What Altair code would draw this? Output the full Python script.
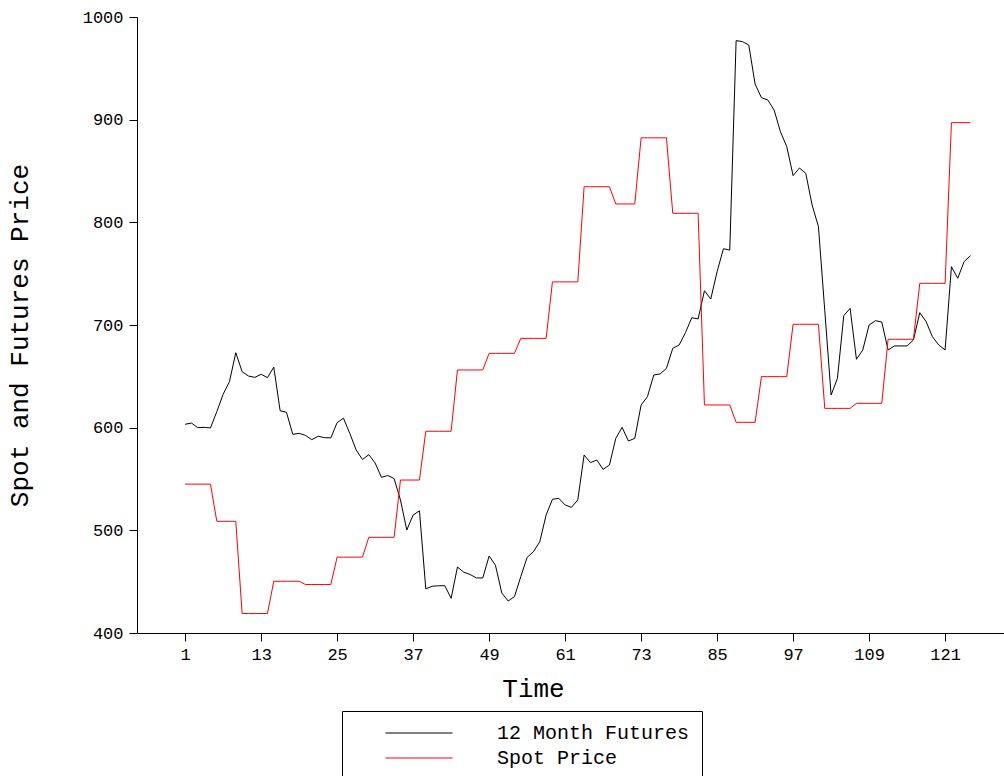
import altair as alt
import pandas as pd

time = list(range(1, 126))

futures = [
    603.3, 604.5, 600.0, 600.3, 599.7, 615.6, 632.5, 644.8, 673.0, 654.5,
    650.3, 649.0, 652.0, 648.7, 659.0, 616.5, 615.0, 593.5, 594.5, 592.5,
    588.3, 591.6, 590.3, 590.0, 604.9, 609.2, 594.5, 578.3, 569.0, 573.7,
    565.6, 551.6, 553.4, 550.4, 529.6, 500.3, 514.9, 519.0, 443.0, 445.5,
    446.0, 446.1, 433.8, 464.3, 459.2, 457.0, 453.6, 453.6, 475.0, 466.0,
    439.0, 431.2, 435.4, 454.9, 473.7, 479.2, 488.9, 514.9, 530.2, 531.2,
    524.7, 522.4, 529.6, 573.4, 565.9, 568.5, 559.4, 563.6, 589.6, 600.3,
    587.0, 589.6, 622.0, 630.2, 651.3, 652.3, 657.8, 677.3, 680.5, 692.5,
    707.1, 705.9, 733.4, 725.3, 752.0, 774.3, 773.0, 977.0, 976.0, 972.7,
    934.7, 921.4, 919.2, 909.4, 888.3, 873.7, 845.5, 852.9, 847.7, 816.9,
    795.8, 714.0, 631.8, 648.1, 709.1, 716.2, 666.6, 675.7, 700.0, 704.2,
    702.9, 675.7, 679.6, 679.6, 679.6, 685.4, 712.0, 703.3, 688.6, 680.5,
    675.7, 756.8, 745.5, 761.7, 767.5,
]

spot = (
    [545.0] * 5 + [508.8] * 4 + [419.0] * 5 + [450.4] * 5 + [447.2] * 5
    + [473.9] * 5 + [493.2] * 5 + [549.0] * 4 + [596.5] * 5 + [656.2] * 5
    + [672.4] * 5 + [687.0] * 5 + [742.0] * 5 + [834.7] * 5 + [817.9] * 4
    + [882.3] * 5 + [808.8] * 5 + [622.1] * 5 + [605.2] * 4 + [649.7] * 5
    + [700.7] * 5 + [618.8] * 5 + [623.7] * 5 + [686.1] * 5 + [740.6] * 5
    + [897.1] * 4
)

series_names = ["12 Month Futures", "Spot Price"]
series_colors = ["#000000", "#ff0000"]
x_ticks = [1, 13, 25, 37, 49, 61, 73, 85, 97, 109, 121]
y_ticks = [400, 500, 600, 700, 800, 900, 1000]

df = pd.concat([
    pd.DataFrame({"Time": time, "Price": futures, "Series": series_names[0]}),
    pd.DataFrame({"Time": time, "Price": spot, "Series": series_names[1]}),
])

FONT = "Liberation Mono"

chart = alt.Chart(df).mark_line(strokeWidth=1).encode(
    x=alt.X("Time:Q",
            scale=alt.Scale(domain=[-6.6, 130.3], nice=False, zero=False),
            axis=alt.Axis(values=x_ticks, title="Time", grid=False,
                          domainColor="black", tickColor="black", tickSize=8,
                          labelFont=FONT, labelFontSize=17, labelColor="black",
                          labelPadding=5, titleFont=FONT, titleFontSize=26,
                          titleFontWeight="normal", titleColor="black",
                          titleX=396, titleY=42, labelFlush=False)),
    y=alt.Y("Price:Q",
            scale=alt.Scale(domain=[400, 1000], nice=False, zero=False),
            axis=alt.Axis(values=y_ticks, title="Spot and Futures Price", grid=False,
                          format="d",
                          domainColor="black", tickColor="black", tickSize=8,
                          labelFont=FONT, labelFontSize=17, labelColor="black",
                          labelPadding=6, titleFont=FONT, titleFontSize=26,
                          titleFontWeight="normal", titleColor="black",
                          titleX=-105, titleY=318, labelFlush=False)),
    color=alt.Color("Series:N",
                    scale=alt.Scale(domain=series_names, range=series_colors),
                    sort=series_names,
                    legend=alt.Legend(orient="none", legendX=205, legendY=694,
                                      title=None, strokeColor="black",
                                      padding=12, symbolType="M-5,0H5",
                                      symbolSize=180, symbolStrokeWidth=1,
                                      symbolOffset=55, labelOffset=68,
                                      labelFont=FONT, labelFontSize=20,
                                      labelColor="black", rowPadding=5,
                                      labelExpr="datum.label + '\u00a0\u00a0'",
                                      labelLimit=500)),
).properties(
    width=867, height=616,
    autosize=alt.AutoSizeParams(type="none"),
    padding={"left": 137, "top": 17, "right": 0, "bottom": 143},
    background="white",
).configure_view(stroke=None)

chart.save("out.html", embed_options={"renderer": "svg", "actions": False})
